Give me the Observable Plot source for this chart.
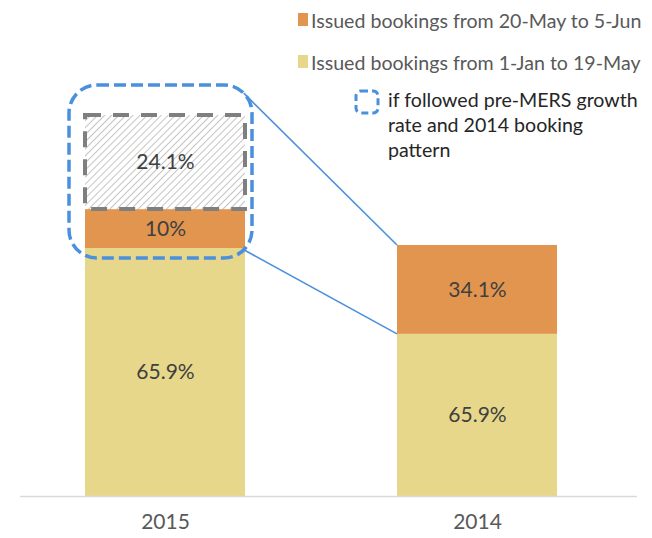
<!DOCTYPE html>
<html>
<head>
<meta charset="utf-8">
<script src="https://cdn.jsdelivr.net/npm/d3@7"></script>
<script src="https://cdn.jsdelivr.net/npm/@observablehq/plot@0.6"></script>
<style>
  html, body { margin: 0; padding: 0; background: #fff; }
  #wrap { position: relative; width: 652px; height: 538px; font-family: Lato, "Open Sans", sans-serif; }
  #wrap svg.plot { position: absolute; left: 0; top: 0; }
  .leg { position: absolute; white-space: nowrap; font-size: 19.6px; line-height: 25px; }
  .sw { position: absolute; width: 10px; height: 13px; }
</style>
</head>
<body>
<div id="wrap"></div>
<script>
// ---- data ----
const years = ["2015", "2014"];
const segments = ["janMay", "mayJun", "projected"];
const legendLabels = [
  "Issued bookings from 20-May to 5-Jun",
  "Issued bookings from 1-Jan to 19-May"
];
const legendProjectedLines = ["if followed pre-MERS growth", "rate and 2014 booking", "pattern"];
// bar heights as drawn, indexed so that the 2014 total = 100
const valJanMay = [98.8, 64.6];
const valMayJun = [15.5, 35.4];
const valProjected = [37.5, 0];
// printed labels (share of each bar's own total)
const labJanMay = ["65.9%", "65.9%"];
const labMayJun = ["10%", "34.1%"];
const labProjected = ["24.1%", ""];

const segFill = { janMay: "#E7D78A", mayJun: "#E2954F" };
const blue = "#4A90DC";

// stacked rows
const rows = years.flatMap((yr, i) => {
  let acc = 0;
  return [
    ["janMay", valJanMay[i], labJanMay[i]],
    ["mayJun", valMayJun[i], labMayJun[i]],
    ["projected", valProjected[i], labProjected[i]]
  ].filter(([, v]) => v > 0).map(([seg, v, label]) => {
    const r = { year: yr, seg, y1: acc, y2: acc + v, label };
    acc += v;
    return r;
  });
});

const defsMark = () => {
  const defs = d3.create("svg:defs");
  const p = defs.append("pattern")
    .attr("id", "hatch").attr("patternUnits", "userSpaceOnUse")
    .attr("width", 5).attr("height", 5)
    .attr("patternTransform", "rotate(45)");
  p.append("rect").attr("width", 5).attr("height", 5).attr("fill", "#fff");
  p.append("line").attr("x1", 0).attr("y1", 0).attr("x2", 0).attr("y2", 5)
    .attr("stroke", "#b0b0b0").attr("stroke-width", 1.5);
  return defs.node();
};

const highlightMark = (index, scales) => {
  const { x, y } = scales;
  const bw = x.bandwidth();
  const x15 = x(years[0]), x14 = x(years[1]);
  const total15 = valJanMay[0] + valMayJun[0] + valProjected[0];
  const left = x15 - 16, right = x15 + bw + 7;
  const top = y(total15) - 30, bottom = y(valJanMay[0]) + 10;
  const r = 28, k = Math.SQRT1_2;
  const g = d3.create("svg:g");
  g.append("line")
    .attr("x1", right - r + r * k).attr("y1", top + r - r * k)
    .attr("x2", x14).attr("y2", y(valJanMay[1] + valMayJun[1]))
    .attr("stroke", blue).attr("stroke-width", 1.6);
  g.append("line")
    .attr("x1", right - r + r * k).attr("y1", bottom - r + r * k)
    .attr("x2", x14).attr("y2", y(valJanMay[1]))
    .attr("stroke", blue).attr("stroke-width", 1.6);
  g.append("rect")
    .attr("x", left).attr("y", top).attr("width", right - left).attr("height", bottom - top)
    .attr("rx", r).attr("ry", r)
    .attr("fill", "none").attr("stroke", blue).attr("stroke-width", 3.5)
    .attr("stroke-dasharray", "12,5");
  return g.node();
};

const plot = Plot.plot({
  width: 652,
  height: 538,
  marginTop: 0,
  marginLeft: 20,
  marginRight: 15,
  marginBottom: 42,
  style: { fontFamily: "Lato, 'Open Sans', sans-serif", background: "transparent" },
  x: { type: "band", domain: years, range: [84, 558], paddingInner: 0.4856, paddingOuter: 0, label: null },
  y: { domain: [0, 100], range: [496, 245], axis: null },
  marks: [
    defsMark,
    Plot.barY(rows.filter(d => d.seg !== "projected"), {
      x: "year", y1: "y1", y2: "y2", fill: d => segFill[d.seg]
    }),
    Plot.barY(rows.filter(d => d.seg === "projected"), {
      x: "year", y1: "y1", y2: "y2", fill: "url(#hatch)",
      stroke: "#7f7f7f", strokeWidth: 4, strokeDasharray: "16,12"
    }),
    highlightMark,
    Plot.text(rows.filter(d => d.label), {
      x: "year", y: d => (d.y1 + d.y2) / 2, text: "label",
      fontSize: 21, fill: "#404040"
    }),
    Plot.ruleY([0], { stroke: "#d9d9d9", strokeWidth: 1.5 }),
    Plot.axisX({ tickSize: 0, tickPadding: 18, fontSize: 21, color: "#595959", label: null })
  ]
});
plot.classList.add("plot");
const wrap = document.getElementById("wrap");
wrap.appendChild(plot);

// legend
const leg = [
  { fill: segFill.mayJun, text: legendLabels[0], top: 13, textTop: 8 },
  { fill: segFill.janMay, text: legendLabels[1], top: 55, textTop: 50 }
];
leg.forEach(e => {
  const sw = document.createElement("div");
  sw.className = "sw";
  sw.style.left = "298px"; sw.style.top = e.top + "px"; sw.style.background = e.fill;
  wrap.appendChild(sw);
  const t = document.createElement("div");
  t.className = "leg";
  t.style.left = "311px"; t.style.top = e.textTop + "px"; t.style.color = "#595959";
  t.textContent = e.text;
  wrap.appendChild(t);
});
const icon = d3.select(wrap).append("svg")
  .style("position", "absolute").style("left", "354px").style("top", "89px")
  .attr("width", 27).attr("height", 27);
icon.append("rect").attr("x", 2).attr("y", 2).attr("width", 22).attr("height", 22)
  .attr("rx", 5).attr("fill", "none").attr("stroke", blue).attr("stroke-width", 3)
  .attr("stroke-dasharray", "7,4");
const t3 = d3.select(wrap).append("div")
  .attr("class", "leg")
  .style("left", "388px").style("top", "87px").style("color", "#262626");
legendProjectedLines.forEach((line, i) => {
  if (i) t3.append("br");
  t3.append("span").text(line);
});
</script>
</body>
</html>
